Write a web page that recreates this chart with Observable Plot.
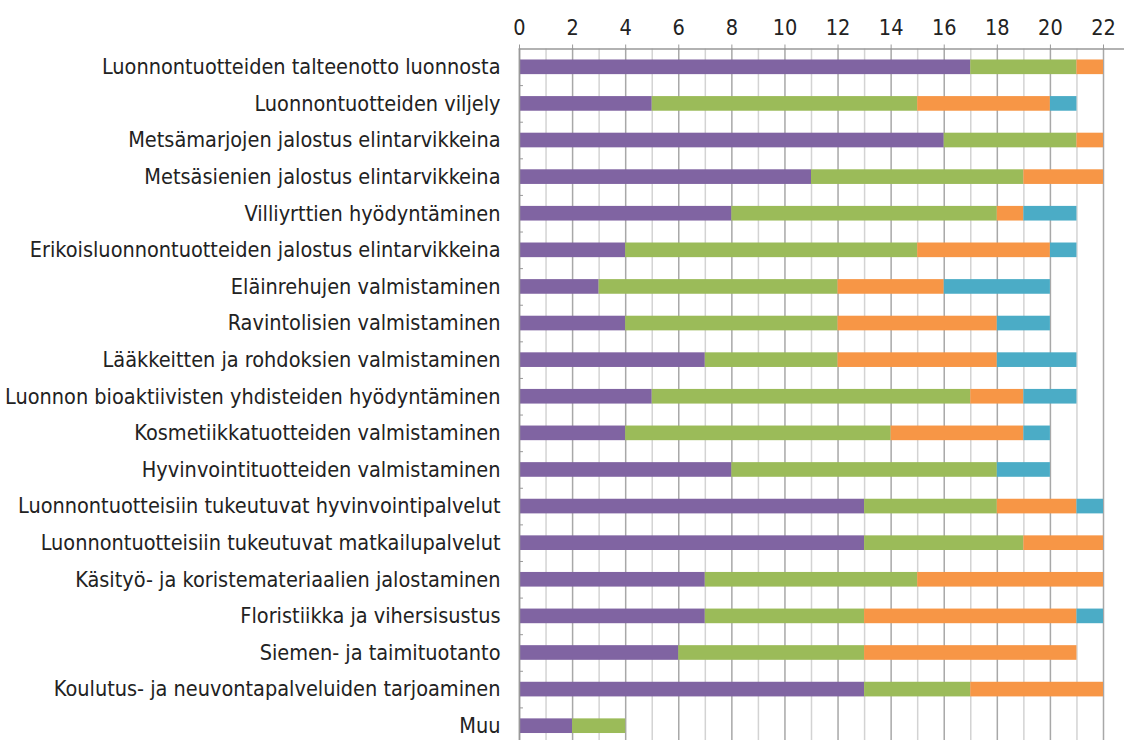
<!DOCTYPE html>
<html><head><meta charset="utf-8">
<script src="https://cdn.jsdelivr.net/npm/d3@7"></script>
<script src="https://cdn.jsdelivr.net/npm/@observablehq/plot@0.6"></script>
<style>html,body{margin:0;background:#fff} svg{display:block}</style>
</head><body><div id="chart"></div>
<script>
const categories = [
  "Luonnontuotteiden talteenotto luonnosta",
  "Luonnontuotteiden viljely",
  "Metsämarjojen jalostus elintarvikkeina",
  "Metsäsienien jalostus elintarvikkeina",
  "Villiyrttien hyödyntäminen",
  "Erikoisluonnontuotteiden jalostus elintarvikkeina",
  "Eläinrehujen valmistaminen",
  "Ravintolisien valmistaminen",
  "Lääkkeitten ja rohdoksien valmistaminen",
  "Luonnon bioaktiivisten yhdisteiden hyödyntäminen",
  "Kosmetiikkatuotteiden valmistaminen",
  "Hyvinvointituotteiden valmistaminen",
  "Luonnontuotteisiin tukeutuvat hyvinvointipalvelut",
  "Luonnontuotteisiin tukeutuvat matkailupalvelut",
  "Käsityö- ja koristemateriaalien jalostaminen",
  "Floristiikka ja vihersisustus",
  "Siemen- ja taimituotanto",
  "Koulutus- ja neuvontapalveluiden tarjoaminen",
  "Muu"
];
const seriesNames = ["Sarja 1", "Sarja 2", "Sarja 3", "Sarja 4"];
const series1 = [17, 5, 16, 11, 8, 4, 3, 4, 7, 5, 4, 8, 13, 13, 7, 7, 6, 13, 2];
const series2 = [4, 10, 5, 8, 10, 11, 9, 8, 5, 12, 10, 10, 5, 6, 8, 6, 7, 4, 2];
const series3 = [1, 5, 1, 3, 1, 5, 4, 6, 6, 2, 5, 0, 3, 3, 7, 8, 8, 5, 0];
const series4 = [0, 1, 0, 0, 2, 1, 4, 2, 3, 2, 1, 2, 1, 0, 0, 1, 0, 0, 0];
const colors = ["#8064A2", "#9BBB59", "#F79646", "#4BACC6"];
const majorTicks = [0, 2, 4, 6, 8, 10, 12, 14, 16, 18, 20, 22];
const minorTicks = [1, 3, 5, 7, 9, 11, 13, 15, 17, 19, 21];

const allSeries = [series1, series2, series3, series4];
const rows = [];
categories.forEach((c, i) => {
  allSeries.forEach((arr, j) => {
    if (arr[i] > 0) rows.push({category: c, series: seriesNames[j], value: arr[i]});
  });
});

const font = "'DejaVu Sans Condensed',sans-serif";
const yTop = 48.5, yBottom = 744;
const step = (yBottom - yTop) / categories.length;

const chart = Plot.plot({
  width: 1124, height: 740,
  marginLeft: 519, marginRight: 0, marginTop: yTop, marginBottom: 0,
  style: {fontFamily: font, fontSize: "21.5px", color: "#222", background: "#fff", overflow: "visible"},
  x: {domain: [0, 22], range: [519, 1103]},
  y: {domain: categories, range: [yTop, yBottom], paddingInner: 0.6, paddingOuter: 0.3, round: false},
  color: {domain: seriesNames, range: colors},
  marks: [
    Plot.ruleX(minorTicks, {stroke: "#d3d3d3", strokeWidth: 1.5}),
    Plot.ruleX(majorTicks, {stroke: "#a8a8a8", strokeWidth: 1.5}),
    Plot.barX(rows, Plot.stackX({y: "category", x: "value", fill: "series", order: seriesNames})),
    Plot.ruleX([0], {stroke: "#999", strokeWidth: 1.5}),
    Plot.ruleY(categories.slice(1), {y: d => d, x1: 0, x2: 0.15, dy: -step / 2, stroke: "#999"}),
    Plot.frame({anchor: "top", stroke: "#999", strokeWidth: 1.5}),
    Plot.axisX({anchor: "top", ticks: majorTicks, tickSize: 5, tickPadding: 9, stroke: "#999", fontSize: 21.5, label: null}),
    Plot.axisY({tickSize: 0, tickPadding: 19, label: null, fontSize: 21.5})
  ]
});
document.getElementById("chart").appendChild(chart);
</script>
</body></html>
